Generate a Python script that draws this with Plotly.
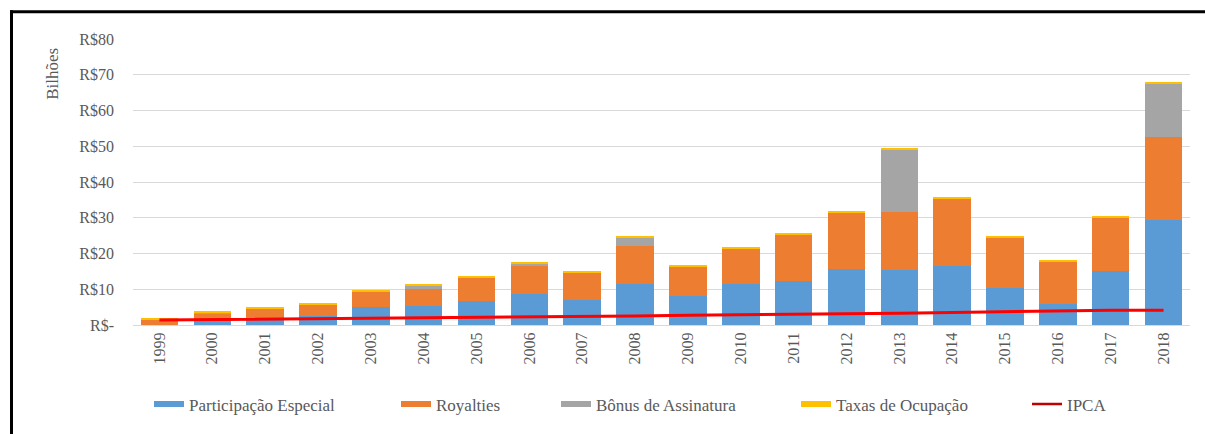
import plotly.graph_objects as go

years = [str(y) for y in range(1999, 2019)]
participacao = [0.0, 1.0, 1.5, 2.5, 4.9, 5.3, 6.8, 8.7, 7.0, 11.6, 8.2, 11.6, 12.3, 15.8, 15.5, 16.4, 10.4, 6.0, 15.2, 29.5]
royalties = [1.4, 2.1, 3.0, 3.1, 4.55, 4.7, 6.5, 7.8, 7.7, 10.6, 8.1, 9.9, 13.1, 15.7, 16.1, 19.05, 14.2, 11.65, 15.0, 23.1]
bonus = [0.2, 0.4, 0.0, 0.0, 0.0, 1.1, 0.0, 0.8, 0.0, 2.4, 0.0, 0.0, 0.0, 0.0, 17.4, 0.0, 0.0, 0.0, 0.0, 15.0]
taxas = [0.1, 0.3, 0.3, 0.3, 0.3, 0.3, 0.3, 0.3, 0.3, 0.3, 0.3, 0.3, 0.3, 0.3, 0.3, 0.3, 0.3, 0.3, 0.3, 0.3]
ipca = [1.4, 1.5, 1.6, 1.75, 1.9, 1.9, 2.1, 2.2, 2.2, 2.5, 2.7, 2.8, 2.9, 3.0, 3.3, 3.5, 3.7, 4.1, 4.1, 4.1]

y_tickvals = [0, 10, 20, 30, 40, 50, 60, 70, 80]
y_ticktext = ["R$-", "R$10", "R$20", "R$30", "R$40", "R$50", "R$60", "R$70", "R$80"]

series = [
    ("Participação Especial", participacao, "#5B9BD5"),
    ("Royalties", royalties, "#ED7D31"),
    ("Bônus de Assinatura", bonus, "#A5A5A5"),
    ("Taxas de Ocupação", taxas, "#FFC000"),
]

FONT = "Liberation Serif, Times New Roman, serif"
GREY = "#595959"

W, H = 1205, 434
L, R, T, B = 133, 15, 39, 107
pw, ph = W - L - R, H - T - B

def px(p):
    return (p - L) / pw

def py(q):
    return (H - B - q) / ph

# legend text start pixels (layout only)
legend_text_x = [190, 437, 597, 837, 1068]
legend_ids = ["legend", "legend2", "legend3", "legend4", "legend5"]

fig = go.Figure()
for name, vals, col in series:
    fig.add_trace(go.Bar(x=years, y=vals, name=name, marker=dict(color=col, line=dict(width=0)),
                         showlegend=False, legendgroup=name))
fig.add_trace(go.Scatter(x=years, y=ipca, mode="lines", name="IPCA",
                         line=dict(color="#FF0000", width=3), showlegend=False, legendgroup="IPCA"))
for i, (name, vals, col) in enumerate(series):
    fig.add_trace(go.Scatter(x=years, y=[None] * len(years), mode="lines", name=name,
                             line=dict(color=col, width=6), legendgroup=name, legend=legend_ids[i]))
fig.add_trace(go.Scatter(x=years, y=[None] * len(years), mode="lines", name="IPCA",
                         line=dict(color="#C00000", width=2.5), legendgroup="IPCA", legend=legend_ids[4]))

legend_layout = {}
for lid, tx in zip(legend_ids, legend_text_x):
    legend_layout[lid] = dict(orientation="h", x=px(tx - 41), xanchor="left", y=py(407), yanchor="middle",
                              font=dict(size=17, color=GREY, family=FONT), itemwidth=30,
                              bgcolor="rgba(0,0,0,0)", borderwidth=0)

fig.update_layout(
    width=W, height=H,
    margin=dict(l=L, r=R, t=T, b=B, pad=0),
    barmode="stack", bargap=0.29,
    plot_bgcolor="white", paper_bgcolor="white",
    font=dict(family=FONT, color=GREY, size=16),
    xaxis=dict(type="category", tickangle=-90, showgrid=False, showline=True,
               linecolor="#D9D9D9", linewidth=1, ticks="", tickfont=dict(size=16, color=GREY)),
    yaxis=dict(range=[0, 80], tickvals=y_tickvals, ticktext=y_ticktext, showgrid=True,
               gridcolor="#D9D9D9", gridwidth=1, zeroline=False, showline=False,
               ticks="", ticklabelstandoff=18, tickfont=dict(size=16, color=GREY)),
    annotations=[dict(text="Bilhões", x=px(53), y=py(74), xref="paper", yref="paper",
                      xanchor="center", yanchor="middle",
                      textangle=-90, showarrow=False, font=dict(size=17, color=GREY))],
    shapes=[
        dict(type="line", xref="paper", yref="paper", x0=px(10), x1=px(1215), y0=py(11.5), y1=py(11.5),
             line=dict(color="black", width=3)),
        dict(type="line", xref="paper", yref="paper", x0=px(11.5), x1=px(11.5), y0=py(10), y1=py(440),
             line=dict(color="black", width=3)),
    ],
    **legend_layout,
)

fig.write_html("out.html", config={"displayModeBar": False},
               post_script="document.body.style.margin='0';document.body.style.overflow='hidden';")
